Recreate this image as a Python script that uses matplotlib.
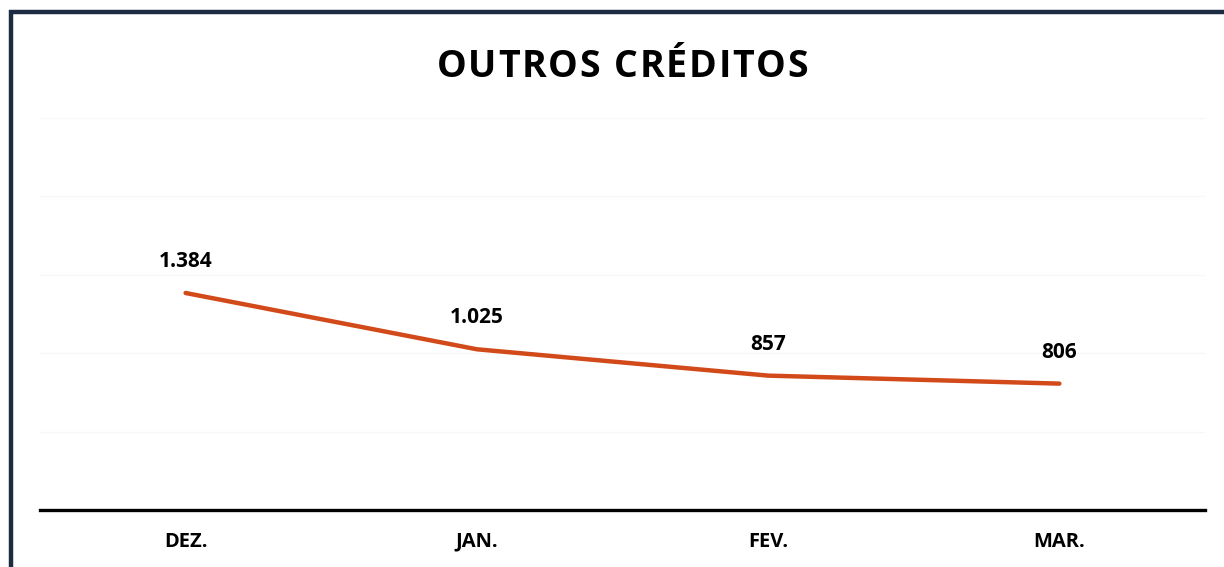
import matplotlib
matplotlib.use("Agg")
import matplotlib.pyplot as plt
from matplotlib.lines import Line2D
from matplotlib.font_manager import FontProperties

categories = ["DEZ.", "JAN.", "FEV.", "MAR."]
values = [1384, 1025, 857, 806]
labels = ["1.384", "1.025", "857", "806"]
title = "OUTROS CRÉDITOS"

plt.rcParams['font.family'] = ['Open Sans', 'DejaVu Sans']

W, H = 1224, 567
fig = plt.figure(figsize=(W/100, H/100), dpi=100)
ax = fig.add_axes([40/W, 1-510/H, (1205-40)/W, (510-118)/H])

x = list(range(len(categories)))
ax.plot(x, values, color='#D24A1A', lw=3.2, solid_capstyle='round', zorder=3)
for xi, v, lab in zip(x, values, labels):
    ax.annotate(lab, (xi, v), xytext=(0, 15), textcoords='offset points',
                ha='center', va='bottom', fontsize=15, fontweight='bold', color='black')

ax.set_xlim(-0.5, len(categories)-0.5)
ax.set_ylim(0, 2500)
ax.set_yticks([0, 500, 1000, 1500, 2000, 2500])
ax.yaxis.grid(True, color='#F7F7F7', lw=1)
ax.set_axisbelow(True)
ax.tick_params(axis='y', left=False, labelleft=False)
ax.tick_params(axis='x', bottom=False, pad=12)
ax.set_xticks(x)
ax.set_xticklabels(categories, fontsize=14.5, fontweight='bold')
for s in ['top', 'right', 'left']:
    ax.spines[s].set_visible(False)
ax.spines['bottom'].set_linewidth(2.4)
ax.spines['bottom'].set_color('black')

# Title with letter spacing, laid out character by character
fp = FontProperties(family='Open Sans', weight='bold', size=27)
renderer = fig.canvas.get_renderer()
def adv(s):
    w1, _, _ = renderer.get_text_width_height_descent(s + "|", fp, ismath=False)
    w2, _, _ = renderer.get_text_width_height_descent("|", fp, ismath=False)
    return w1 - w2
target_width = 371.0
base = adv(title)
last_w, _, _ = renderer.get_text_width_height_descent(title[-1], fp, ismath=False)
natural = adv(title[:-1]) + last_w
spacing = (target_width - natural) / (len(title) - 1)
start = 622 - target_width / 2
baseline_y = 1 - 77 / H
for i, ch in enumerate(title):
    if ch == " ":
        continue
    xpos = start + adv(title[:i]) + i * spacing
    fig.text(xpos / W, baseline_y, ch, ha='left', va='baseline',
             fontproperties=fp, color='black')

navy = '#1B2B42'
fig.add_artist(Line2D([9/W, 1.0], [1-12/H, 1-12/H], color=navy, lw=3.2,
                      transform=fig.transFigure, solid_capstyle='butt'))
fig.add_artist(Line2D([11/W, 11/W], [1-10/H, 0], color=navy, lw=3.2,
                      transform=fig.transFigure, solid_capstyle='butt'))

fig.savefig('out.png', dpi=100)
